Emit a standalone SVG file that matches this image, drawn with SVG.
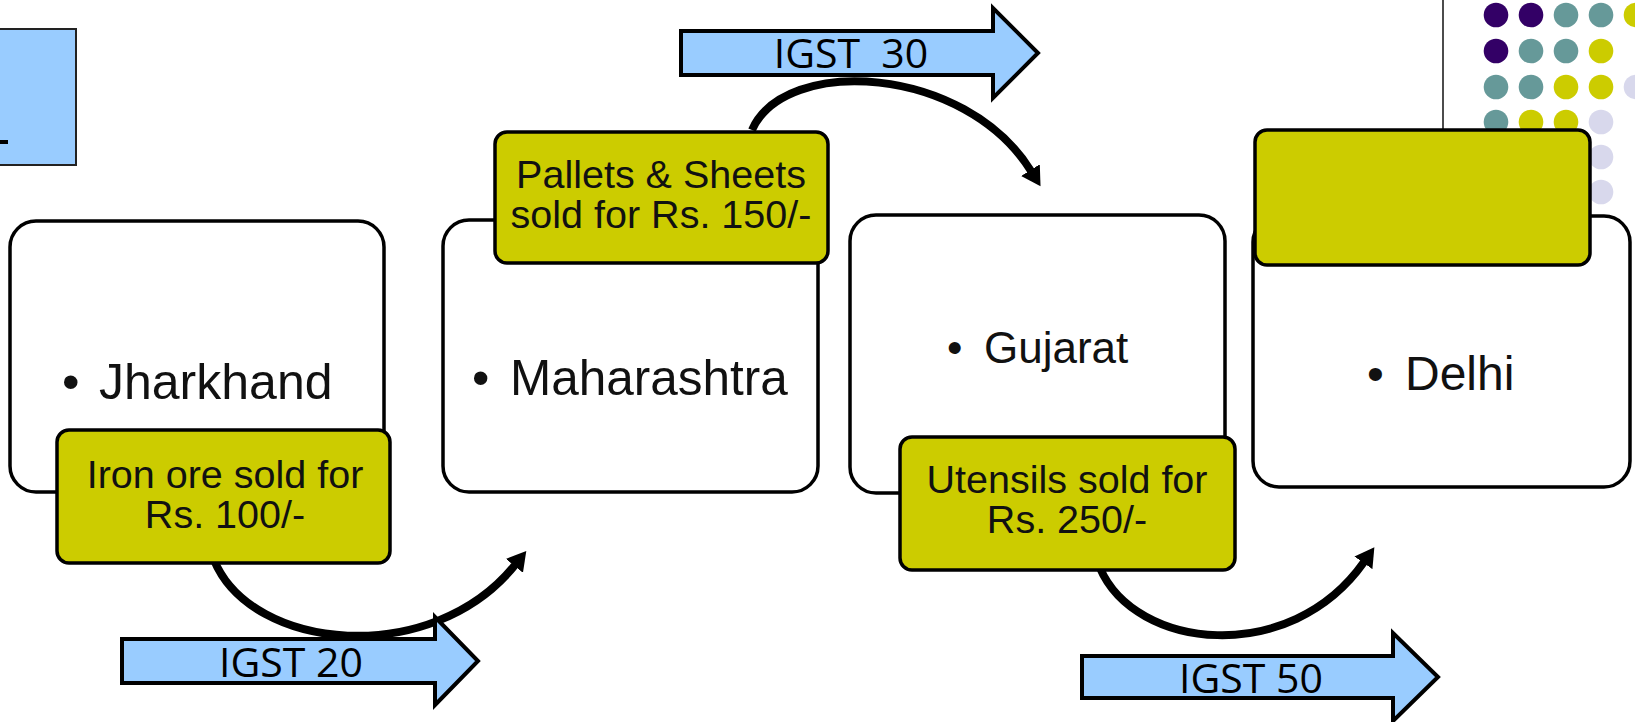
<svg xmlns="http://www.w3.org/2000/svg" width="1635" height="722" viewBox="0 0 1635 722">
  <style>
    .state { fill: #ffffff; stroke: #000000; stroke-width: 3.5; }
    .sale { fill: #cccc00; stroke: #000000; stroke-width: 3.5; }
    .tax { fill: #99ccff; stroke: #000000; stroke-width: 4; stroke-linejoin: miter; }
    .name { font-family: "Liberation Sans", Arial, sans-serif; fill: #111111; }
    .note { font-family: "Liberation Sans", Arial, sans-serif; font-size: 39.5px; fill: #111111; text-anchor: middle; }
    .taxlabel { font-family: "Open Sans", "Liberation Sans", sans-serif; font-size: 41px; fill: #000000; text-anchor: middle; }
    .flow { fill: none; stroke: #000000; stroke-width: 8; stroke-linecap: butt; marker-end: url(#head); }
    .purple { fill: #330066; }
    .teal { fill: #669999; }
    .olive { fill: #cccc00; }
    .lav { fill: #d8d8ec; }
  </style>
  <defs>
    <marker id="head" markerUnits="userSpaceOnUse" markerWidth="24" markerHeight="24" viewBox="0 0 24 24" refX="1" refY="12" orient="auto">
      <path d="M0,1 L19,12 L0,23 z" fill="#000000"/>
    </marker>
  </defs>

  <rect width="1635" height="722" fill="#ffffff"/>

  <!-- slide decoration: corner panel, rule and dot pattern -->
  <g id="decor">
    <rect x="-3" y="29" width="79" height="136" fill="#99ccff" stroke="#222222" stroke-width="2"/>
    <rect x="0" y="140" width="8" height="4" fill="#000000"/>
    <line x1="1443" y1="0" x2="1443" y2="132" stroke="#111111" stroke-width="1.5"/>
    <circle class="purple" cx="1496" cy="15" r="12.3"/>
    <circle class="purple" cx="1531" cy="15" r="12.3"/>
    <circle class="teal" cx="1566" cy="15" r="12.3"/>
    <circle class="teal" cx="1601" cy="15" r="12.3"/>
    <circle class="olive" cx="1636" cy="15" r="12.3"/>
    <circle class="purple" cx="1496" cy="51" r="12.3"/>
    <circle class="teal" cx="1531" cy="51" r="12.3"/>
    <circle class="teal" cx="1566" cy="51" r="12.3"/>
    <circle class="olive" cx="1601" cy="51" r="12.3"/>
    <circle class="teal" cx="1496" cy="87" r="12.3"/>
    <circle class="teal" cx="1531" cy="87" r="12.3"/>
    <circle class="olive" cx="1566" cy="87" r="12.3"/>
    <circle class="olive" cx="1601" cy="87" r="12.3"/>
    <circle class="lav" cx="1636" cy="87" r="12.3"/>
    <circle class="teal" cx="1496" cy="122" r="12.3"/>
    <circle class="olive" cx="1531" cy="122" r="12.3"/>
    <circle class="olive" cx="1566" cy="122" r="12.3"/>
    <circle class="lav" cx="1601" cy="122" r="12.3"/>
    <circle class="lav" cx="1601" cy="157" r="12.3"/>
    <circle class="lav" cx="1601" cy="192" r="12.3"/>
  </g>

  <!-- curved flow arrows between states -->
  <g id="connectors">
    <path class="flow" d="M214,560 C252,652 432,668 515,565"/>
    <path class="flow" d="M752,130 C785,55 965,65 1031,171"/>
    <path class="flow" d="M1100,568 C1135,650 1290,667 1364,562"/>
  </g>

  <g id="jharkhand">
    <rect class="state" x="10" y="221" width="374" height="271" rx="26"/>
    <text class="name" font-size="50" y="399"><tspan x="62">•</tspan><tspan x="99">Jharkhand</tspan></text>
  </g>
  <g id="maharashtra">
    <rect class="state" x="443" y="220" width="375" height="272" rx="26"/>
    <text class="name" font-size="49.5" y="395"><tspan x="472">•</tspan><tspan x="510">Maharashtra</tspan></text>
  </g>
  <g id="gujarat">
    <rect class="state" x="850" y="215" width="375" height="278" rx="26"/>
    <text class="name" font-size="44" y="363"><tspan x="947">•</tspan><tspan x="984">Gujarat</tspan></text>
  </g>
  <g id="delhi">
    <rect class="state" x="1253" y="216" width="377" height="271" rx="26"/>
    <text class="name" font-size="48" y="390"><tspan x="1367">•</tspan><tspan x="1405">Delhi</tspan></text>
  </g>

  <g id="sale-iron">
    <rect class="sale" x="57" y="430" width="333" height="133" rx="12"/>
    <text class="note" x="225" y="488">Iron ore sold for</text>
    <text class="note" x="225" y="528">Rs. 100/-</text>
  </g>
  <g id="sale-pallets">
    <rect class="sale" x="495" y="132" width="333" height="131" rx="12"/>
    <text class="note" x="661" y="188">Pallets &amp; Sheets</text>
    <text class="note" x="661" y="228">sold for Rs. 150/-</text>
  </g>
  <g id="sale-utensils">
    <rect class="sale" x="900" y="437" width="335" height="133" rx="12"/>
    <text class="note" x="1067" y="493" font-size="40.5">Utensils sold for</text>
    <text class="note" x="1067" y="533" font-size="40.5">Rs. 250/-</text>
  </g>
  <g id="sale-delhi">
    <rect class="sale" x="1255" y="130" width="335" height="135" rx="12"/>
  </g>

  <g id="igst-20">
    <polygon class="tax" points="122,639 435,639 435,617 478,661 435,705 435,683 122,683"/>
    <text class="taxlabel" x="291" y="677">IGST 20</text>
  </g>
  <g id="igst-30">
    <polygon class="tax" points="681,31 993,31 993,8 1038,53 993,98 993,75 681,75"/>
    <text class="taxlabel" x="851" y="68" xml:space="preserve">IGST  30</text>
  </g>
  <g id="igst-50">
    <polygon class="tax" points="1082,656 1393,656 1393,633 1438,677 1393,721 1393,698 1082,698"/>
    <text class="taxlabel" x="1251" y="693">IGST 50</text>
  </g>
</svg>
